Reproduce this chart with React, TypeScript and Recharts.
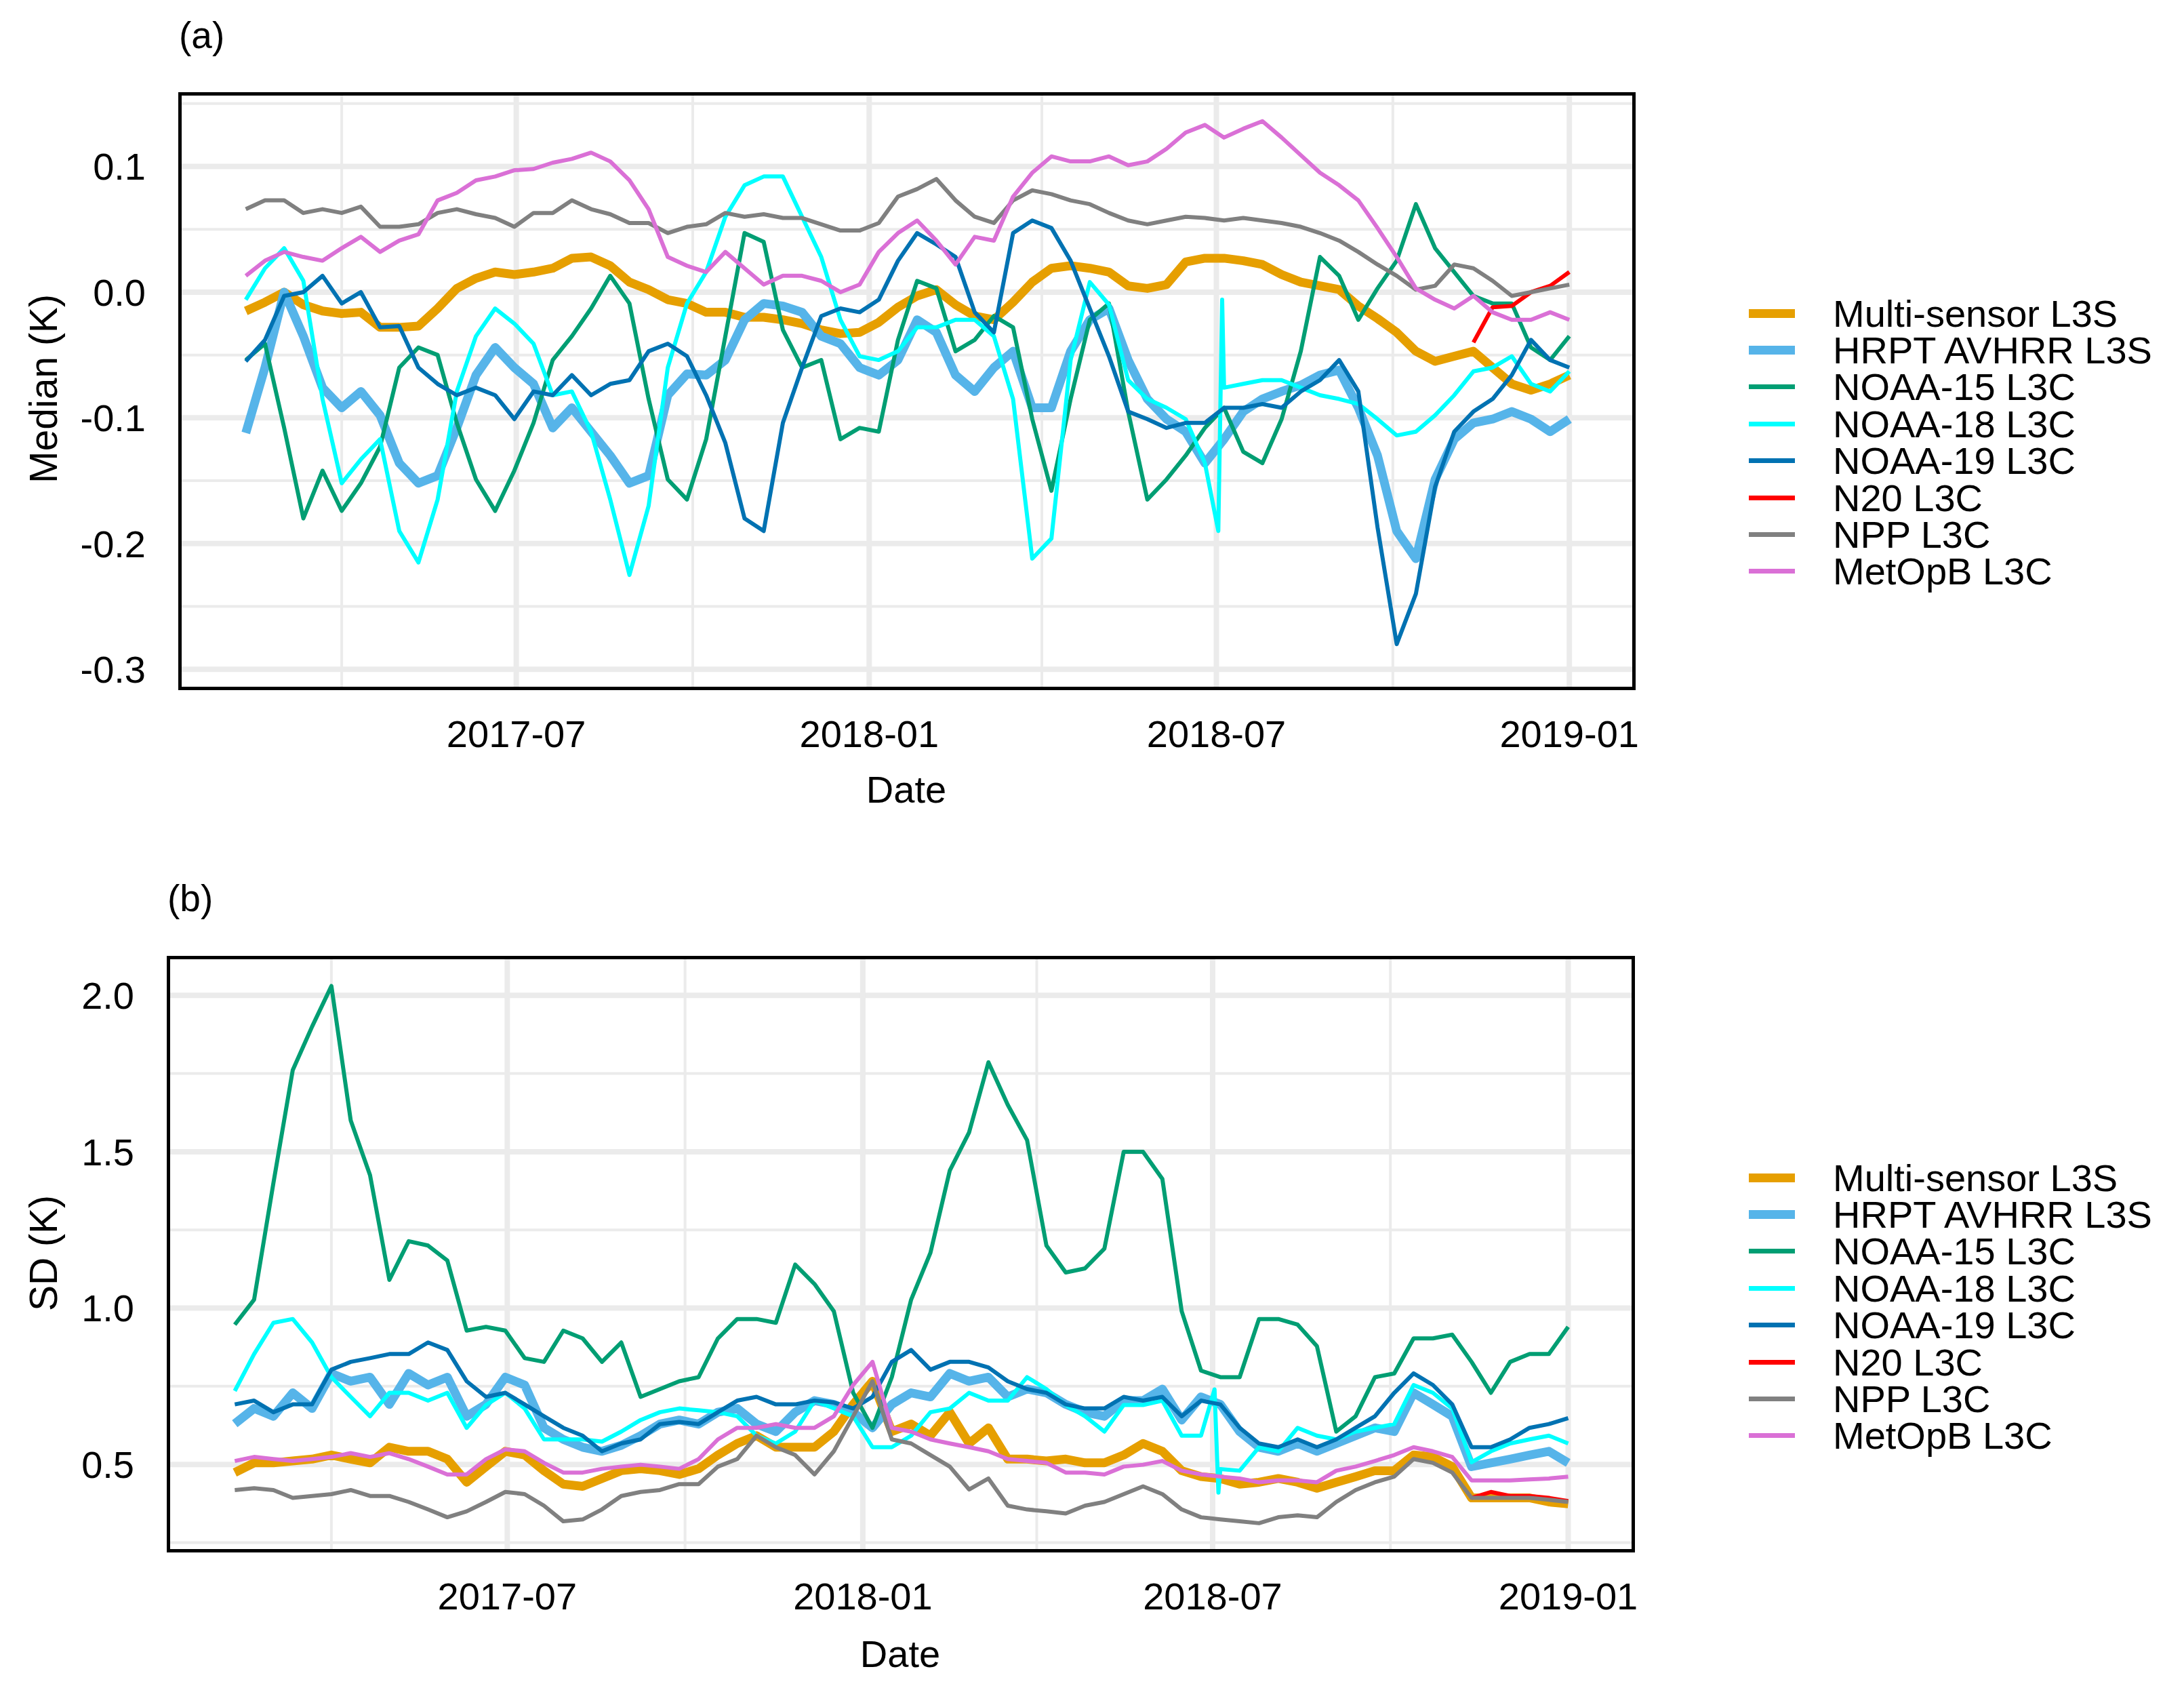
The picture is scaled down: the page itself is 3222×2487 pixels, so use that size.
import React from "react";
import { CartesianGrid, Line, LineChart, XAxis, YAxis } from "recharts";

// sampling: one value every 10 days, starting 2017-02-10
const FIRST_DAY = "2017-02-10";
const STEP_DAYS = 10;
const N20_FIRST = 64; // N20 L3C only exists from sample 64 (2018-11-12)

const X_TICKS = ["2017-07-01", "2018-01-01", "2018-07-01", "2019-01-01"];
const X_MINOR = ["2017-04-01", "2017-10-01", "2018-04-01", "2018-10-01"];
const MED_TICKS = [-0.3, -0.2, -0.1, 0.0, 0.1];
const MED_MINOR = [-0.25, -0.15, -0.05, 0.05, 0.15];
const SD_TICKS = [0.5, 1.0, 1.5, 2.0];
const SD_MINOR = [0.25, 0.75, 1.25, 1.75];

const NAMES = [
  "Multi-sensor L3S",
  "HRPT AVHRR L3S",
  "NOAA-15 L3C",
  "NOAA-18 L3C",
  "NOAA-19 L3C",
  "N20 L3C",
  "NPP L3C",
  "MetOpB L3C",
];
const KEYS = ["ms", "hrpt", "n15", "n18", "n19", "n20", "npp", "metopb"];
const COLORS = ["#E69F00", "#56B4E9", "#009E73", "#00FFFF", "#0072B2", "#FF0000", "#808080", "#DA70D6"];
const WIDTHS = [13, 13, 6, 6, 6, 6, 6, 6];

// ---- (a) median ----
const MS_MED = [
  -0.015, -0.008, 0.0, -0.01, -0.015, -0.017, -0.016, -0.028, -0.028, -0.027,
  -0.013, 0.003, 0.011, 0.016, 0.014, 0.016, 0.019, 0.027, 0.028, 0.021,
  0.008, 0.002, -0.006, -0.009, -0.016, -0.016, -0.02, -0.02, -0.022, -0.025,
  -0.03, -0.033, -0.032, -0.024, -0.012,
  -0.003, 0.002, -0.01, -0.019, -0.022, -0.008, 0.008, 0.019, 0.021, 0.019,
  0.016, 0.005, 0.003, 0.006, 0.024, 0.027, 0.027, 0.025, 0.022, 0.014,
  0.008, 0.005, 0.002, -0.011, -0.021, -0.032, -0.047, -0.055, -0.051, -0.047,
  -0.06, -0.073, -0.078, -0.073, -0.066,
];
const HRPT_MED = [
  -0.112, -0.06, 0.0, -0.035, -0.076, -0.092, -0.079, -0.098, -0.136, -0.152,
  -0.146, -0.108, -0.066, -0.044, -0.06, -0.073, -0.108, -0.092, -0.111, -0.13,
  -0.152, -0.146, -0.082, -0.065, -0.066, -0.054, -0.022, -0.009, -0.011, -0.016,
  -0.035, -0.041, -0.06, -0.066, -0.054,
  -0.022, -0.032, -0.066, -0.079, -0.06, -0.047, -0.092, -0.092, -0.047, -0.022,
  -0.013, -0.054, -0.085, -0.101, -0.111, -0.136, -0.117, -0.095, -0.085, -0.079,
  -0.074, -0.066, -0.062, -0.092, -0.13, -0.19, -0.212, -0.149, -0.117, -0.104,
  -0.101, -0.095, -0.101, -0.111, -0.101,
];
const N15_MED = [
  -0.054, -0.041, -0.108, -0.18, -0.142, -0.174, -0.152, -0.123, -0.06, -0.044,
  -0.05, -0.104, -0.149, -0.174, -0.142, -0.104, -0.054, -0.035, -0.013, 0.013,
  -0.009, -0.085, -0.149, -0.165, -0.117, -0.035, 0.047, 0.04, -0.03, -0.06,
  -0.054, -0.117, -0.108, -0.111, -0.038,
  0.009, 0.003, -0.047, -0.038, -0.019, -0.028, -0.101, -0.158, -0.085, -0.022,
  -0.009, -0.095, -0.165, -0.149, -0.13, -0.108, -0.092, -0.127, -0.136, -0.101,
  -0.047, 0.028, 0.013, -0.022, 0.003, 0.025, 0.07, 0.035, 0.016, -0.003,
  -0.009, -0.009, -0.044, -0.054, -0.035,
];
const N18_MED = [
  -0.006, 0.019, 0.035, 0.009, -0.085, -0.152, -0.133, -0.117, -0.19, -0.215,
  -0.165, -0.079, -0.035, -0.013, -0.025, -0.041, -0.082, -0.079, -0.111, -0.165,
  -0.225, -0.17, -0.06, -0.009, 0.016, 0.06, 0.085, 0.092, 0.092, 0.06,
  0.028, -0.022, -0.051, -0.054, -0.047,
  -0.028, -0.028, -0.022, -0.022, -0.035, -0.085, -0.212, -0.196, -0.054, 0.008,
  -0.01, -0.07, -0.085, -0.092, -0.101, -0.136, -0.076, -0.073, -0.07, -0.07,
  -0.076, -0.082, -0.085, -0.089, -0.101, -0.114, -0.111, -0.098, -0.082, -0.063,
  -0.06, -0.051, -0.073, -0.079, -0.063,
];
const N19_MED = [
  -0.055, -0.038, -0.003, 0.0, 0.013, -0.009, 0.0, -0.028, -0.027, -0.06,
  -0.073, -0.082, -0.076, -0.082, -0.101, -0.079, -0.082, -0.066, -0.082, -0.073,
  -0.07, -0.047, -0.041, -0.051, -0.082, -0.12, -0.18, -0.19, -0.104, -0.06,
  -0.019, -0.013, -0.016, -0.006, 0.025,
  0.047, 0.038, 0.028, -0.016, -0.032, 0.047, 0.057, 0.051, 0.025, -0.013,
  -0.051, -0.095, -0.101, -0.108, -0.104, -0.104, -0.092, -0.092, -0.089, -0.092,
  -0.079, -0.07, -0.054, -0.079, -0.187, -0.28, -0.24, -0.155, -0.111, -0.095,
  -0.085, -0.066, -0.038, -0.054, -0.06,
];
const N20_MED = [-0.04, -0.012, -0.011, 0.0, 0.005, 0.016];
const NPP_MED = [
  0.066, 0.073, 0.073, 0.063, 0.066, 0.063, 0.068, 0.052, 0.052, 0.054,
  0.063, 0.066, 0.062, 0.059, 0.052, 0.063, 0.063, 0.073, 0.066, 0.062,
  0.055, 0.055, 0.047, 0.052, 0.054, 0.063, 0.06, 0.062, 0.059, 0.059,
  0.054, 0.049, 0.049, 0.055, 0.076,
  0.082, 0.09, 0.073, 0.06, 0.055, 0.073, 0.081, 0.078, 0.073, 0.07,
  0.063, 0.057, 0.054, 0.057, 0.06, 0.059, 0.057, 0.059, 0.057, 0.055,
  0.052, 0.047, 0.041, 0.032, 0.022, 0.013, 0.002, 0.005, 0.022, 0.019,
  0.009, -0.003, 0.0, 0.003, 0.006,
];
const METOPB_MED = [
  0.013, 0.025, 0.032, 0.028, 0.025, 0.035, 0.044, 0.032, 0.041, 0.046,
  0.073, 0.079, 0.089, 0.092, 0.097, 0.098, 0.103, 0.106, 0.111, 0.104,
  0.089, 0.066, 0.028, 0.021, 0.016, 0.032, 0.019, 0.006, 0.013, 0.013,
  0.009, 0.0, 0.006, 0.032, 0.047,
  0.057, 0.041, 0.022, 0.044, 0.041, 0.076, 0.095, 0.108, 0.104, 0.104,
  0.108, 0.101, 0.104, 0.114, 0.127, 0.133, 0.123, 0.13, 0.136, 0.123,
  0.109, 0.095, 0.085, 0.073, 0.051, 0.028, 0.003, -0.006, -0.013, -0.003,
  -0.016, -0.022, -0.022, -0.016, -0.022,
];
// short glitch of NOAA-18 at the start of July 2018
const N18_GLITCH_DATES = ["2018-07-02", "2018-07-04"];
const N18_GLITCH_MED = [-0.19, -0.006];

// ---- (b) standard deviation ----
const MS_SD = [
  0.474, 0.505, 0.505, 0.511, 0.517, 0.53, 0.517, 0.505, 0.555, 0.542,
  0.542, 0.517, 0.443, 0.493, 0.542, 0.53, 0.48, 0.437, 0.43, 0.455,
  0.48, 0.486, 0.48, 0.468, 0.486, 0.53, 0.567, 0.592, 0.555, 0.555,
  0.555, 0.605, 0.692, 0.766, 0.605,
  0.629, 0.592, 0.667, 0.567, 0.617, 0.517, 0.517, 0.511, 0.517, 0.505,
  0.505, 0.53, 0.567, 0.542, 0.48, 0.461, 0.455, 0.437, 0.443, 0.455,
  0.443, 0.424, 0.443, 0.461, 0.48, 0.48, 0.53, 0.524, 0.493, 0.393,
  0.393, 0.393, 0.393, 0.38, 0.374,
];
const HRPT_SD = [
  0.63, 0.679, 0.654, 0.729, 0.679, 0.791, 0.766, 0.779, 0.692, 0.791,
  0.754, 0.779, 0.654, 0.692, 0.779, 0.754, 0.617, 0.58, 0.555, 0.542,
  0.561, 0.592, 0.629, 0.642, 0.629, 0.667, 0.679, 0.629, 0.605, 0.667,
  0.704, 0.692, 0.667, 0.617, 0.692,
  0.729, 0.716, 0.791, 0.766, 0.779, 0.716, 0.741, 0.729, 0.692, 0.667,
  0.654, 0.704, 0.704, 0.741, 0.642, 0.716, 0.692, 0.605, 0.555, 0.542,
  0.567, 0.542, 0.567, 0.592, 0.617, 0.605, 0.729, 0.692, 0.654, 0.493,
  0.505, 0.517, 0.53, 0.542, 0.505,
];
const N15_SD = [
  0.947, 1.027, 1.4, 1.761, 1.9, 2.03, 1.6, 1.425, 1.09, 1.214,
  1.2, 1.152, 0.928, 0.94, 0.928, 0.84, 0.828, 0.928, 0.903, 0.828,
  0.89, 0.716, 0.741, 0.766, 0.779, 0.903, 0.965, 0.965, 0.953, 1.139,
  1.077, 0.99, 0.729, 0.617, 0.779,
  1.027, 1.177, 1.44, 1.562, 1.786, 1.65, 1.537, 1.2, 1.114, 1.127,
  1.19, 1.5, 1.5, 1.413, 0.99, 0.8, 0.779, 0.779, 0.965, 0.965,
  0.947, 0.878, 0.605, 0.654, 0.779, 0.791, 0.903, 0.903, 0.915, 0.828,
  0.729, 0.828, 0.853, 0.853, 0.94,
];
const N18_SD = [
  0.735, 0.853, 0.953, 0.965, 0.89, 0.779, 0.716, 0.654, 0.729, 0.729,
  0.704, 0.729, 0.617, 0.69, 0.729, 0.679, 0.58, 0.58, 0.58, 0.573,
  0.605, 0.642, 0.667, 0.679, 0.673, 0.667, 0.654, 0.592, 0.567, 0.605,
  0.704, 0.679, 0.654, 0.555, 0.555,
  0.592, 0.667, 0.679, 0.729, 0.704, 0.704, 0.779, 0.741, 0.69, 0.654,
  0.605, 0.69, 0.69, 0.704, 0.592, 0.592, 0.485, 0.48, 0.555, 0.542,
  0.617, 0.592, 0.58, 0.605, 0.617, 0.629, 0.754, 0.729, 0.679, 0.507,
  0.542, 0.567, 0.58, 0.592, 0.567,
];
const N19_SD = [
  0.692, 0.704, 0.667, 0.692, 0.692, 0.803, 0.828, 0.84, 0.853, 0.853,
  0.89, 0.866, 0.766, 0.716, 0.729, 0.692, 0.654, 0.617, 0.592, 0.542,
  0.567, 0.58, 0.629, 0.636, 0.629, 0.667, 0.704, 0.716, 0.692, 0.692,
  0.704, 0.698, 0.679, 0.716, 0.828,
  0.866, 0.803, 0.828, 0.828, 0.81, 0.766, 0.741, 0.729, 0.692, 0.679,
  0.679, 0.716, 0.704, 0.716, 0.654, 0.704, 0.692, 0.617, 0.567, 0.555,
  0.58, 0.555, 0.58, 0.617, 0.654, 0.729, 0.791, 0.754, 0.692, 0.555,
  0.555, 0.58, 0.617, 0.629, 0.648,
];
const N20_SD = [0.393, 0.412, 0.399, 0.399, 0.393, 0.383];
const NPP_SD = [
  0.418, 0.424, 0.418, 0.393, 0.399, 0.405, 0.418, 0.399, 0.399, 0.38,
  0.356, 0.331, 0.35, 0.38, 0.412, 0.405, 0.368, 0.318, 0.324, 0.356,
  0.399, 0.412, 0.418, 0.437, 0.437, 0.493, 0.517, 0.592, 0.555, 0.53,
  0.468, 0.542, 0.654, 0.766, 0.58,
  0.567, 0.53, 0.493, 0.42, 0.455, 0.368, 0.356, 0.35, 0.343, 0.368,
  0.38, 0.405, 0.43, 0.405, 0.356, 0.331, 0.324, 0.318, 0.312, 0.331,
  0.337, 0.331, 0.38, 0.418, 0.443, 0.461, 0.517, 0.505, 0.474, 0.393,
  0.393, 0.393, 0.393, 0.387, 0.38,
];
const METOPB_SD = [
  0.511, 0.524, 0.517, 0.511, 0.517, 0.524, 0.536, 0.524, 0.536, 0.517,
  0.493, 0.468, 0.468, 0.517, 0.548, 0.542, 0.505, 0.474, 0.474, 0.486,
  0.493, 0.499, 0.493, 0.486, 0.517, 0.58, 0.617, 0.617, 0.629, 0.617,
  0.617, 0.654, 0.754, 0.828, 0.617,
  0.605, 0.58, 0.567, 0.555, 0.542, 0.517, 0.511, 0.505, 0.474, 0.474,
  0.468, 0.493, 0.499, 0.511, 0.48, 0.468, 0.461, 0.455, 0.443, 0.449,
  0.449, 0.443, 0.48, 0.493, 0.511, 0.53, 0.555, 0.542, 0.524, 0.449,
  0.449, 0.449, 0.452, 0.455, 0.461,
];
const N18_GLITCH_SD = [0.74, 0.41];

const DAY_MS = 86400000;
const ms = (s: string) => Date.parse(s + "T00:00:00Z");
const T0 = ms(FIRST_DAY);
const X_DOMAIN = [T0 - 34.5 * DAY_MS, T0 + 723.5 * DAY_MS];
const FONT = "'Liberation Sans', Arial, Helvetica, sans-serif";
const TICK = { fill: "#000", fontSize: 56, fontFamily: FONT };
const GRID = "#EBEBEB";

function buildRows(series: number[][], glitch: number[]) {
  const rows: any[] = MS_MED.map((_, i) => ({ t: T0 + i * STEP_DAYS * DAY_MS }));
  series.forEach((vals, s) => {
    const offset = KEYS[s] === "n20" ? N20_FIRST : 0;
    vals.forEach((v, j) => {
      rows[offset + j][KEYS[s]] = v;
    });
  });
  N18_GLITCH_DATES.forEach((d, j) => rows.push({ t: ms(d), n18: glitch[j] }));
  return rows.sort((a, b) => a.t - b.t);
}

const ROWS_MED = buildRows(
  [MS_MED, HRPT_MED, N15_MED, N18_MED, N19_MED, N20_MED, NPP_MED, METOPB_MED],
  N18_GLITCH_MED
);
const ROWS_SD = buildRows(
  [MS_SD, HRPT_SD, N15_SD, N18_SD, N19_SD, N20_SD, NPP_SD, METOPB_SD],
  N18_GLITCH_SD
);

const monthLabel = (v: number) => new Date(v).toISOString().slice(0, 7);

function Panel(props: {
  rows: any[];
  top: number;
  plotLeft: number;
  plotTop: number;
  plotRight: number;
  plotBottom: number;
  yDomain: number[];
  yTicks: number[];
  yMinor: number[];
}) {
  const { rows, top, plotLeft, plotTop, plotRight, plotBottom, yDomain, yTicks, yMinor } = props;
  const axisW = 200;
  const axisH = 150;
  const width = plotRight + 10;
  const height = plotBottom - top + axisH;
  return (
    <>
      <div style={{ position: "absolute", left: 0, top }}>
        <LineChart
          width={width}
          height={height}
          data={rows}
          margin={{ top: plotTop - top, right: 10, bottom: 0, left: plotLeft - axisW }}
        >
          <CartesianGrid
            stroke={GRID}
            strokeWidth={4}
            horizontalValues={yMinor}
            verticalValues={X_MINOR.map(ms)}
          />
          <CartesianGrid
            stroke={GRID}
            strokeWidth={8}
            horizontalValues={yTicks}
            verticalValues={X_TICKS.map(ms)}
          />
          <XAxis
            type="number"
            dataKey="t"
            domain={X_DOMAIN}
            ticks={X_TICKS.map(ms)}
            tickFormatter={monthLabel}
            interval={0}
            allowDataOverflow
            axisLine={false}
            tickLine={false}
            tickSize={0}
            tickMargin={47}
            height={axisH}
            tick={TICK}
          />
          <YAxis
            type="number"
            domain={yDomain}
            ticks={yTicks}
            tickFormatter={(v: number) => v.toFixed(1)}
            interval={0}
            allowDataOverflow
            axisLine={false}
            tickLine={false}
            tickSize={0}
            tickMargin={50}
            width={axisW}
            tick={TICK}
          />
          {KEYS.map((k, i) => (
            <Line
              key={k}
              type="linear"
              dataKey={k}
              name={NAMES[i]}
              stroke={COLORS[i]}
              strokeWidth={WIDTHS[i]}
              strokeLinejoin="round"
              dot={false}
              activeDot={false}
              connectNulls
              isAnimationActive={false}
            />
          ))}
        </LineChart>
      </div>
      <div
        style={{
          position: "absolute",
          left: plotLeft - 2.5,
          top: plotTop - 2.5,
          width: plotRight - plotLeft + 5,
          height: plotBottom - plotTop + 5,
          border: "5px solid #000",
          boxSizing: "border-box",
          pointerEvents: "none",
        }}
      />
    </>
  );
}

function Legend({ top }: { top: number }) {
  return (
    <>
      {NAMES.map((n, i) => {
        const y = top + i * 54.4;
        const thick = WIDTHS[i] > 8 ? 13 : 7;
        return (
          <React.Fragment key={n}>
            <div
              style={{
                position: "absolute",
                left: 2580,
                top: y - thick / 2,
                width: 68,
                height: thick,
                background: COLORS[i],
              }}
            />
            <div
              style={{
                position: "absolute",
                left: 2704,
                top: y - 24.5,
                fontSize: 56,
                lineHeight: "50px",
                whiteSpace: "nowrap",
                color: "#000",
              }}
            >
              {n}
            </div>
          </React.Fragment>
        );
      })}
    </>
  );
}

function Text({ x, y, size, children, rotate, align }: any) {
  return (
    <div
      style={{
        position: "absolute",
        left: align === "left" ? x : x - 400,
        top: y - size * 0.49,
        width: align === "left" ? undefined : 800,
        textAlign: align === "left" ? "left" : "center",
        fontSize: size,
        lineHeight: `${size}px`,
        whiteSpace: "nowrap",
        color: "#000",
        transform: rotate ? "rotate(-90deg)" : undefined,
        transformOrigin: "center",
      }}
    >
      {children}
    </div>
  );
}

export default function App() {
  return (
    <div
      style={{
        position: "absolute",
        left: 0,
        top: 0,
        width: 3222,
        height: 2487,
        background: "#fff",
        fontFamily: FONT,
        overflow: "hidden",
      }}
    >
      <Panel
        rows={ROWS_MED}
        top={0}
        plotLeft={265}
        plotTop={138}
        plotRight={2410}
        plotBottom={1015}
        yDomain={[-0.315, 0.158]}
        yTicks={MED_TICKS}
        yMinor={MED_MINOR}
      />
      <Panel
        rows={ROWS_SD}
        top={1300}
        plotLeft={248}
        plotTop={1412}
        plotRight={2409}
        plotBottom={2287}
        yDomain={[0.225, 2.122]}
        yTicks={SD_TICKS}
        yMinor={SD_MINOR}
      />
      <Text x={264} y={52} size={55} align="left">(a)</Text>
      <Text x={247} y={1325} size={55} align="left">(b)</Text>
      <Text x={1337} y={1164} size={56}>Date</Text>
      <Text x={1328} y={2439} size={56}>Date</Text>
      <Text x={64} y={573} size={57} rotate>Median (K)</Text>
      <Text x={64} y={1848} size={57} rotate>SD (K)</Text>
      <Legend top={462} />
      <Legend top={1737} />
    </div>
  );
}
